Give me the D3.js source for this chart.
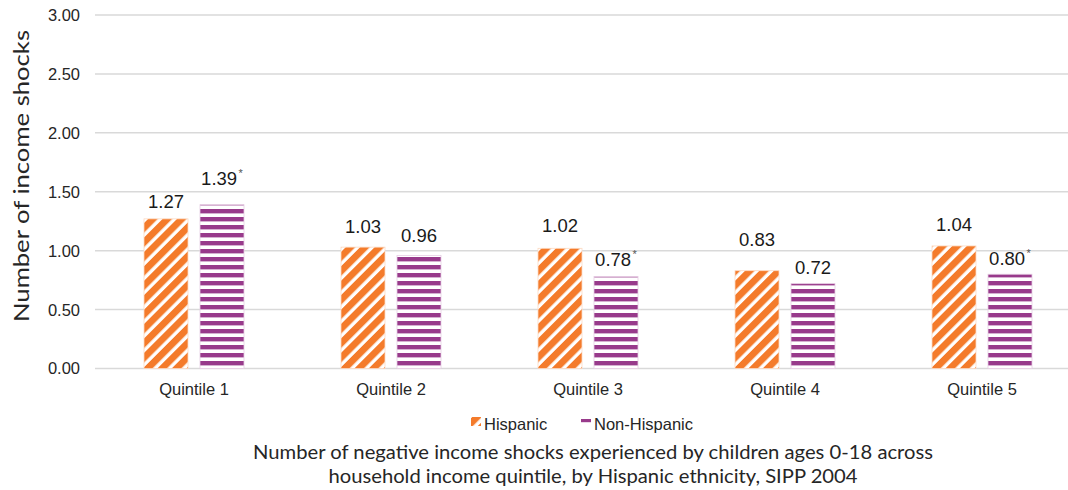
<!DOCTYPE html>
<html>
<head>
<meta charset="utf-8">
<script src="https://cdn.jsdelivr.net/npm/d3@7"></script>
<style>
  html, body { margin: 0; padding: 0; background: #fff; }
  svg { display: block; }
</style>
</head>
<body>
<svg id="chart" width="1068" height="490"></svg>
<script>
// Negative income shocks by household income quintile and Hispanic ethnicity
const quintiles = ["Quintile 1", "Quintile 2", "Quintile 3", "Quintile 4", "Quintile 5"];
const seriesNames = ["Hispanic", "Non-Hispanic"];
const hispanic = [1.27, 1.03, 1.02, 0.83, 1.04];
const nonHispanic = [1.39, 0.96, 0.78, 0.72, 0.80];
// significance flags for the Non-Hispanic estimates
const nonHispanicStar = [true, false, true, false, true];
const yTicks = [0, 0.5, 1, 1.5, 2, 2.5, 3];
const yTitle = "Number of income shocks";
const captionLines = [
  "Number of negative income shocks experienced by children ages 0-18 across",
  "household income quintile, by Hispanic ethnicity, SIPP 2004"
];

// label placement above each bar (px), per series
const labelGap = {
  "Hispanic": [11, 14, 16, 25, 15],
  "Non-Hispanic": [20, 13, 11, 10, 9]
};

const colors = { "Hispanic": "#F47B2B", "Non-Hispanic": "#983A8B" };
const edge = { "Hispanic": "#FCD9C2", "Non-Hispanic": "#E6CDE3" };
const sansA = "'Liberation Sans', Arial, sans-serif";
const sansB = "Lato, 'Open Sans', sans-serif";
const ink = "#262626";

const svg = d3.select("#chart");
const W = 1068;

const y = d3.scaleLinear().domain([0, 3]).range([368.5, 15]);
const x0 = d3.scaleBand().domain(quintiles).range([95.5, 1080.5]).padding(0);
const x1 = d3.scaleBand().domain(seriesNames).range([-50, 50]).paddingInner(12 / 56).paddingOuter(0);

// fill patterns
const defs = svg.append("defs");
const pH = defs.append("pattern")
  .attr("id", "pat-hisp")
  .attr("patternUnits", "userSpaceOnUse")
  .attr("width", 10.2).attr("height", 10.2)
  .attr("patternTransform", "rotate(45)");
pH.append("rect").attr("width", 10.2).attr("height", 10.2).attr("fill", "#fff");
pH.append("rect").attr("width", 6.8).attr("height", 10.2).attr("fill", colors["Hispanic"]);

const pN = defs.append("pattern")
  .attr("id", "pat-nonhisp")
  .attr("patternUnits", "userSpaceOnUse")
  .attr("width", 8).attr("height", 8)
  .attr("y", 1);
pN.append("rect").attr("width", 8).attr("height", 8).attr("fill", "#fff");
pN.append("rect").attr("width", 8).attr("height", 4.4).attr("fill", colors["Non-Hispanic"]);

const patFor = { "Hispanic": "url(#pat-hisp)", "Non-Hispanic": "url(#pat-nonhisp)" };

// gridlines + y tick labels
const grid = svg.append("g");
grid.selectAll("line").data(yTicks).join("line")
  .attr("x1", 95).attr("x2", W)
  .attr("y1", d => y(d)).attr("y2", d => y(d))
  .attr("stroke", "#D9D9D9").attr("stroke-width", 1.5);

svg.append("g").selectAll("text").data(yTicks).join("text")
  .attr("x", 80).attr("y", d => y(d))
  .attr("dy", "0.36em")
  .attr("text-anchor", "end")
  .attr("font-family", sansA).attr("font-size", 16.5)
  .attr("fill", ink)
  .text(d3.format(".2f"));

// y-axis title
svg.append("text")
  .attr("transform", `translate(29,176) rotate(-90)`)
  .attr("text-anchor", "middle")
  .attr("font-family", sansB).attr("font-size", 21)
  .attr("fill", ink)
  .attr("textLength", 292).attr("lengthAdjust", "spacingAndGlyphs")
  .text(yTitle);

// bars
const rows = quintiles.map((q, i) => ({
  q, i,
  vals: [
    { s: "Hispanic", v: hispanic[i], star: false },
    { s: "Non-Hispanic", v: nonHispanic[i], star: nonHispanicStar[i] }
  ]
}));

const groups = svg.append("g").selectAll("g").data(rows).join("g")
  .attr("transform", d => `translate(${x0(d.q) + x0.bandwidth() / 2},0)`);

groups.selectAll("rect").data(d => d.vals.map(v => ({ ...v, i: d.i }))).join("rect")
  .attr("x", d => x1(d.s))
  .attr("width", x1.bandwidth())
  .attr("y", d => y(d.v))
  .attr("height", d => y(0) - y(d.v))
  .attr("fill", d => patFor[d.s])
  .attr("stroke", d => edge[d.s])
  .attr("stroke-width", 0.8);

// value labels
const labels = groups.selectAll("text.val").data(d => d.vals.map(v => ({ ...v, i: d.i }))).join("text")
  .attr("class", "val")
  .attr("x", d => x1(d.s) + x1.bandwidth() / 2)
  .attr("y", d => y(d.v) - labelGap[d.s][d.i])
  .attr("text-anchor", "middle")
  .attr("font-family", sansA).attr("font-size", 18.5)
  .attr("fill", "#1a1a1a");
labels.append("tspan").text(d => d3.format(".2f")(d.v));
labels.filter(d => d.star).append("tspan")
  .attr("dx", 1.5).attr("dy", -8)
  .attr("font-size", 11).attr("fill", "#555")
  .text("*");

// category labels
svg.append("g").selectAll("text").data(quintiles).join("text")
  .attr("x", d => x0(d) + x0.bandwidth() / 2)
  .attr("y", 395)
  .attr("text-anchor", "middle")
  .attr("font-family", sansA).attr("font-size", 16.5)
  .attr("fill", ink)
  .text(d => d);

// legend
const legendPos = [{ s: "Hispanic", x: 471 }, { s: "Non-Hispanic", x: 581 }];
const lg = svg.append("g").selectAll("g").data(legendPos).join("g")
  .attr("transform", d => `translate(${d.x},0)`);
lg.append("rect")
  .attr("x", 0).attr("y", d => d.s === "Hispanic" ? 417 : 419)
  .attr("width", 10).attr("height", d => d.s === "Hispanic" ? 9 : 3.2)
  .attr("fill", d => d.s === "Hispanic" ? patFor[d.s] : colors[d.s]);
lg.append("text")
  .attr("x", 13).attr("y", 429.5)
  .attr("font-family", sansA).attr("font-size", 16.5)
  .attr("fill", ink)
  .text(d => d.s);

// caption
svg.append("g").selectAll("text").data(captionLines).join("text")
  .attr("x", 593).attr("y", (d, i) => 458.5 + i * 24.5)
  .attr("text-anchor", "middle")
  .attr("font-family", sansB).attr("font-size", 19.5)
  .attr("fill", ink)
  .attr("textLength", (d, i) => i === 0 ? 680 : 529)
  .attr("lengthAdjust", "spacingAndGlyphs")
  .text(d => d);
</script>
</body>
</html>
